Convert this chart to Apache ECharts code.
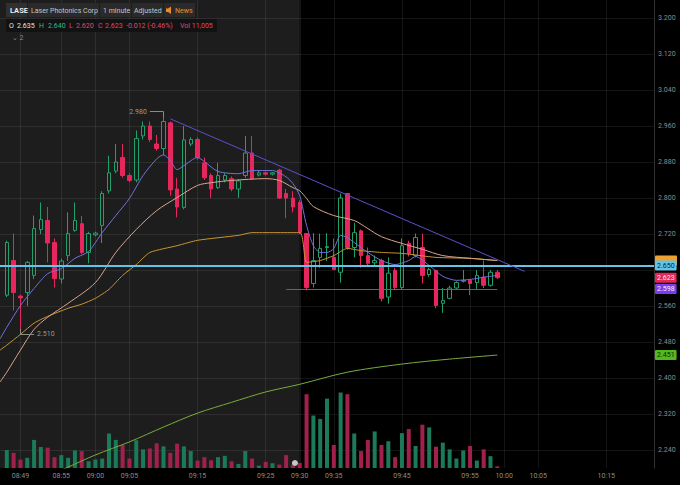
<!DOCTYPE html>
<html><head><meta charset="utf-8">
<script src="https://cdn.jsdelivr.net/npm/echarts@6/dist/echarts.min.js"></script>
<style>html,body{margin:0;padding:0;background:#000;}#c{width:680px;height:485px;}</style>
</head><body><div id="c"></div>
<script>
// ---------- DATA ----------
const categories = [];
for (let m = 526; m <= 622; m++) {
  categories.push(String(Math.floor(m / 60)).padStart(2, '0') + ':' + String(m % 60).padStart(2, '0'));
}
const candleTimes = categories.slice(1, 74); // 08:47 .. 09:59
const timeLabels = ['08:49','08:55','09:00','09:05','09:15','09:25','09:30','09:35','09:45','09:55','10:00','10:05','10:15'];
const gridTicks = [2.24,2.32,2.40,2.48,2.56,2.64,2.72,2.80,2.88,2.96,3.04,3.12,3.20];
const priceLabels = [2.24,2.32,2.40,2.48,2.56,2.72,2.80,2.88,2.96,3.04,3.12,3.20]; // 2.640 hidden behind price tags

const openP  = [2.584,2.661,2.582,2.590,2.628,2.730,2.750,2.701,2.620,2.672,2.728,2.743,2.679,2.718,2.739,2.816,2.860,2.890,2.850,2.840,2.938,2.960,2.920,2.910,2.967,2.820,2.779,2.920,2.930,2.878,2.850,2.823,2.840,2.843,2.820,2.850,2.900,2.851,2.856,2.853,2.862,2.810,2.800,2.790,2.721,2.610,2.668,2.690,2.668,2.635,2.810,2.690,2.727,2.672,2.656,2.661,2.580,2.639,2.601,2.699,2.672,2.690,2.630,2.639,2.566,2.577,2.600,2.615,2.617,2.612,2.624,2.606,2.635];
const closeP = [2.701,2.590,2.578,2.657,2.732,2.752,2.700,2.621,2.660,2.721,2.750,2.679,2.721,2.722,2.810,2.856,2.880,2.850,2.839,2.932,2.960,2.930,2.910,2.970,2.818,2.780,2.929,2.930,2.890,2.845,2.820,2.850,2.850,2.820,2.838,2.900,2.843,2.856,2.853,2.856,2.800,2.800,2.780,2.723,2.601,2.661,2.688,2.692,2.641,2.800,2.690,2.723,2.672,2.655,2.661,2.577,2.633,2.601,2.694,2.677,2.712,2.628,2.641,2.561,2.572,2.600,2.612,2.617,2.610,2.628,2.606,2.635,2.623];
const lowP   = [2.580,2.550,2.510,2.560,2.620,2.720,2.657,2.601,2.610,2.660,2.725,2.675,2.655,2.715,2.700,2.810,2.855,2.845,2.835,2.835,2.930,2.925,2.905,2.895,2.805,2.757,2.775,2.915,2.885,2.840,2.800,2.820,2.835,2.815,2.800,2.845,2.840,2.848,2.850,2.850,2.798,2.755,2.768,2.720,2.595,2.601,2.645,2.660,2.640,2.612,2.685,2.668,2.645,2.650,2.650,2.570,2.565,2.598,2.598,2.670,2.668,2.610,2.625,2.555,2.545,2.575,2.598,2.612,2.584,2.598,2.600,2.603,2.620];
const highP  = [2.705,2.721,2.585,2.660,2.761,2.790,2.780,2.710,2.665,2.768,2.790,2.760,2.725,2.725,2.815,2.894,2.920,2.920,2.855,2.950,2.970,2.970,2.940,2.980,2.970,2.845,2.960,2.935,2.935,2.890,2.855,2.878,2.855,2.848,2.842,2.938,2.938,2.860,2.858,2.858,2.865,2.820,2.815,2.795,2.722,2.722,2.721,2.722,2.710,2.810,2.810,2.745,2.730,2.690,2.672,2.665,2.668,2.645,2.710,2.705,2.721,2.721,2.645,2.640,2.600,2.605,2.615,2.640,2.620,2.640,2.661,2.640,2.640];
const volume = [116600,99000,55000,66000,182600,136400,132000,70400,83600,66000,114400,110000,44000,55000,61600,224400,182600,149600,61600,180400,121000,127600,160600,140800,99000,158400,140800,110000,48400,70400,50600,70400,79200,44000,26400,110000,61600,15400,39600,30800,22000,83600,22000,33000,479600,341000,319000,451000,149600,490600,479600,224400,110000,182600,237600,149600,173800,70400,226600,253000,143000,281600,264000,138600,165000,121000,61600,114400,143000,48400,121000,77000,11005];

const emaFast = [['08:46',2.487],['08:47',2.513],['08:49',2.561],['08:51',2.599],['08:53',2.632],['08:55',2.643],['08:57',2.666],['08:59',2.681],['09:01',2.723],['09:03',2.761],['09:05',2.799],['09:07',2.850],['09:09',2.887],['09:10',2.896],['09:11',2.883],['09:12',2.863],['09:13',2.872],['09:15',2.890],['09:16',2.881],['09:18',2.859],['09:21',2.854],['09:23',2.861],['09:26',2.861],['09:28',2.847],['09:29',2.832],['09:30',2.805],['09:31',2.739],['09:32',2.694],['09:33',2.679],['09:34',2.679],['09:35',2.688],['09:36',2.717],['09:37',2.712],['09:38',2.701],['09:40',2.679],['09:42',2.661],['09:44',2.652],['09:46',2.661],['09:47',2.670],['09:49',2.650],['09:51',2.626],['09:53',2.617],['09:55',2.619],['09:57',2.624],['09:59',2.628]];
const emaSlow = [['08:46',2.391],['08:47',2.413],['08:49',2.462],['08:51',2.508],['08:53',2.535],['08:56',2.566],['09:00',2.612],['09:03',2.679],['09:06',2.730],['09:09',2.772],['09:12',2.801],['09:15',2.828],['09:17',2.834],['09:20',2.839],['09:25',2.843],['09:27',2.839],['09:29',2.823],['09:30',2.816],['09:31',2.799],['09:32',2.781],['09:35',2.761],['09:38',2.750],['09:40',2.732],['09:42',2.714],['09:45',2.699],['09:48',2.686],['09:51',2.672],['09:55',2.666],['09:59',2.661]];
const vwapLine = [['08:46',2.462],['08:47',2.473],['08:49',2.497],['08:51',2.522],['08:53',2.537],['08:56',2.555],['08:58',2.564],['09:00',2.577],['09:02',2.597],['09:04',2.628],['09:06',2.652],['09:08',2.679],['09:12',2.694],['09:15',2.706],['09:21',2.717],['09:23',2.723],['09:30',2.723],['09:31',2.657],['09:33',2.661],['09:35',2.672],['09:37',2.688],['09:39',2.683],['09:42',2.679],['09:45',2.677],['09:50',2.668],['09:55',2.666],['09:59',2.661]];
const smaLong = [['08:52',2.176],['08:56',2.202],['09:00',2.229],['09:05',2.258],['09:10',2.291],['09:15',2.322],['09:20',2.346],['09:25',2.369],['09:30',2.386],['09:37',2.413],['09:45',2.431],['09:52',2.442],['09:59',2.451]];

const resistanceLevel = 2.650;
const supportLevel = 2.598;
const supportSpan = ['09:28','09:59'];
const trendLine = [['09:11',2.976],['10:03',2.637]];
const highMark = {time:'09:10', price:2.980, leftTime:'09:08', labelPrice:2.992};
const lowMark = {time:'08:49', price:2.510, rightTime:'08:51', labelPrice:2.497};
const newsTime = '09:29';

// ---------- CHART ----------
const UP = '#22a06b', DOWN = '#e8265e', FONT = 'Roboto';
const isLabel = (i, v) => timeLabels.indexOf(v) >= 0;
const tag = (bg, fg) => ({show:true, position:'end', distance:1, formatter:p => Number(p.value).toFixed(3),
  backgroundColor:bg, color:fg, fontSize:7, fontFamily:FONT, padding:[2,2,1,2], borderRadius:1});
const lastClose = closeP[closeP.length - 1];

const chart = echarts.init(document.getElementById('c'), null, {renderer:'svg', width:680, height:485});
const option = {
  backgroundColor:'#000',
  animation:false,
  grid:[{left:0, right:26, top:-1, bottom:17}, {left:0, right:26, bottom:17, height:100}],
  xAxis:[
    {type:'category', data:categories, gridIndex:0, boundaryGap:false, z:1.5,
     axisLine:{show:false}, axisTick:{show:false}, axisLabel:{show:false},
     splitLine:{show:true, interval:isLabel, lineStyle:{color:'rgba(255,255,255,0.08)', width:1}}},
    {type:'category', data:categories, gridIndex:1, boundaryGap:false,
     axisLine:{show:false}, axisTick:{show:false}, splitLine:{show:false},
     axisLabel:{show:true, interval:isLabel, color:'#8c8c8c', fontSize:7, fontFamily:FONT, margin:4}}
  ],
  yAxis:[
    {type:'value', gridIndex:0, position:'right', min:2.2, max:3.24, z:1.5,
     axisLine:{show:true, lineStyle:{color:'#333'}},
     axisTick:{show:false, customValues:gridTicks},
     axisLabel:{customValues:priceLabels, formatter:v => v.toFixed(3), color:'#8c8c8c', fontSize:7, fontFamily:FONT, margin:4},
     splitLine:{show:true, lineStyle:{color:'rgba(255,255,255,0.08)', width:1}}},
    {type:'value', gridIndex:1, min:0, max:650000, show:false}
  ],
  series:[
    {type:'bar', name:'Volume', xAxisIndex:1, yAxisIndex:1, barWidth:4, z:2,
     data:candleTimes.map((t, i) => ({value:[t, volume[i]], itemStyle:{color: closeP[i] >= openP[i] ? '#1b7a57' : '#a1204c'}})),
     markPoint:{silent:true, symbol:'circle', symbolSize:6, symbolOffset:[2,-5], itemStyle:{color:'#c8c8c8'}, label:{show:false},
       data:[{coord:[newsTime, 0]}]}
    },
    {type:'candlestick', name:'LASE', xAxisIndex:0, yAxisIndex:0, z:3, barWidth:4,
     data:candleTimes.map((t, i) => [t, openP[i], closeP[i], lowP[i], highP[i]]),
     encode:{x:0, y:[1,2,3,4]},
     itemStyle:{color:'rgba(0,0,0,0)', color0:DOWN, borderColor:UP, borderColor0:DOWN, borderWidth:1},
     markArea:{silent:true, z:1, itemStyle:{color:'#1d1d1d'}, data:[[{xAxis:categories[0]}, {xAxis:'09:30'}]]}
    },
    {type:'line', name:'SMA', data:smaLong, symbol:'none', smooth:0.3, z:4, lineStyle:{color:'#78ad3a', width:1}},
    {type:'line', name:'VWAP', data:vwapLine, symbol:'none', smooth:0.2, z:4, lineStyle:{color:'#c9962f', width:1}},
    {type:'line', name:'EMA slow', data:emaSlow, symbol:'none', smooth:0.3, z:4, lineStyle:{color:'#dca38c', width:1}},
    {type:'line', name:'EMA fast', data:emaFast, symbol:'none', smooth:0.25, z:4, lineStyle:{color:'#6f74da', width:1}},
    {type:'line', name:'overlay', data:[], z:6,
     markLine:{silent:true, precision:3, symbol:['none','none'], label:{show:false}, data:[
       {yAxis:vwapLine[vwapLine.length-1][1], lineStyle:{color:'rgba(0,0,0,0)'},
        label:{show:true, position:'end', distance:1, formatter:' ', width:18, height:8, backgroundColor:'#eba232', fontSize:6, padding:[1,2], borderRadius:1}},
       {yAxis:smaLong[smaLong.length-1][1], lineStyle:{color:'rgba(0,0,0,0)'}, label:tag('#56b81e','#0d2a00')},
       {yAxis:supportLevel, lineStyle:{color:'rgba(0,0,0,0)'}, label:tag('#7b3de8','#f4f0ff')},
       {yAxis:lastClose, lineStyle:{color:'rgba(0,0,0,0)'}, label:tag('#e2265c','#ffe9ef')},
       {yAxis:resistanceLevel, lineStyle:{color:'#62c4e6', width:2, type:'solid'}, label:tag('#62c4e6','#06222e')},
       [{coord:[supportSpan[0], supportLevel], lineStyle:{color:'#7a3ff0', width:1.2, type:'solid'}}, {coord:[supportSpan[1], supportLevel]}],
       [{coord:trendLine[0], lineStyle:{color:'#5c4fd2', width:1, type:'solid'}}, {coord:trendLine[1]}],
       [{coord:[highMark.leftTime, highMark.labelPrice], lineStyle:{color:'#8a8a8a', width:1, type:'solid'},
         label:{show:true, position:'start', distance:3, formatter:highMark.price.toFixed(3), color:'#9a9a9a', fontSize:7, fontFamily:FONT}},
        {coord:[highMark.time, highMark.labelPrice]}],
       [{coord:[highMark.time, highMark.labelPrice], lineStyle:{color:'#8a8a8a', width:1, type:'solid'}}, {coord:[highMark.time, highMark.price]}],
       [{coord:[lowMark.time, lowMark.price], lineStyle:{color:'#8a8a8a', width:1, type:'solid'}}, {coord:[lowMark.time, lowMark.labelPrice]}],
       [{coord:[lowMark.time, lowMark.labelPrice], lineStyle:{color:'#8a8a8a', width:1, type:'solid'},
         label:{show:true, position:'end', distance:3, formatter:lowMark.price.toFixed(3), color:'#9a9a9a', fontSize:7, fontFamily:FONT}},
        {coord:[lowMark.rightTime, lowMark.labelPrice]}]
     ]}
    }
  ],
  graphic:{elements:[
    {type:'rect', z:100, shape:{x:6,y:3,width:21,height:14}, style:{fill:'#303030'}},
    {type:'rect', z:100, shape:{x:28,y:3,width:71,height:14}, style:{fill:'#2a2a2a'}},
    {type:'rect', z:100, shape:{x:100,y:3,width:31,height:14}, style:{fill:'#2a2a2a'}},
    {type:'rect', z:100, shape:{x:132,y:3,width:31,height:14}, style:{fill:'#2a2a2a'}},
    {type:'rect', z:100, shape:{x:164,y:3,width:31,height:14}, style:{fill:'#2a2a2a'}},
    {type:'text', z:101, x:10, y:10.5, style:{text:'LASE', fill:'#f2f2f2', font:'600 7.5px Roboto', verticalAlign:'middle'}},
    {type:'text', z:101, x:31, y:10.5, style:{text:'Laser Photonics Corp', fill:'#c4c4c4', font:'7px Roboto', verticalAlign:'middle'}},
    {type:'text', z:101, x:103, y:10.5, style:{text:'1 minute', fill:'#c4c4c4', font:'7px Roboto', verticalAlign:'middle'}},
    {type:'text', z:101, x:134, y:10.5, style:{text:'Adjusted', fill:'#c4c4c4', font:'7px Roboto', verticalAlign:'middle'}},
    {type:'polygon', z:101, shape:{points:[[166,8.5],[168,8.5],[171,6.5],[171,14],[168,12],[166,12]]}, style:{fill:'#f08a24'}},
    {type:'text', z:101, x:175, y:10.5, style:{text:'News', fill:'#f08a24', font:'7px Roboto', verticalAlign:'middle'}},
    {type:'rect', z:100, shape:{x:6,y:19,width:211,height:13}, style:{fill:'#121212'}},
    {type:'text', z:101, x:9, y:25.5, style:{text:'O', fill:'#e6e6e6', font:'7px Roboto', verticalAlign:'middle'}},
    {type:'text', z:101, x:17, y:25.5, style:{text:'2.635', fill:'#e6e6e6', font:'7px Roboto', verticalAlign:'middle'}},
    {type:'text', z:101, x:39, y:25.5, style:{text:'H', fill:'#2fbf83', font:'7px Roboto', verticalAlign:'middle'}},
    {type:'text', z:101, x:48, y:25.5, style:{text:'2.640', fill:'#2fbf83', font:'7px Roboto', verticalAlign:'middle'}},
    {type:'text', z:101, x:69, y:25.5, style:{text:'L', fill:'#e2456e', font:'7px Roboto', verticalAlign:'middle'}},
    {type:'text', z:101, x:76, y:25.5, style:{text:'2.620', fill:'#e2456e', font:'7px Roboto', verticalAlign:'middle'}},
    {type:'text', z:101, x:98, y:25.5, style:{text:'C', fill:'#e2456e', font:'7px Roboto', verticalAlign:'middle'}},
    {type:'text', z:101, x:105, y:25.5, style:{text:'2.623', fill:'#e2456e', font:'7px Roboto', verticalAlign:'middle'}},
    {type:'text', z:101, x:126, y:25.5, style:{text:'-0.012 (-0.46%)', fill:'#e2456e', font:'7px Roboto', verticalAlign:'middle'}},
    {type:'text', z:101, x:180, y:25.5, style:{text:'Vol 11,005', fill:'#e2456e', font:'7px Roboto', verticalAlign:'middle'}},
    {type:'text', z:101, x:12, y:37.5, style:{text:'⌄ 2', fill:'#8a8a8a', font:'7px Roboto, DejaVu Sans', verticalAlign:'middle'}}
  ]}
};
chart.setOption(option);
</script></body></html>
